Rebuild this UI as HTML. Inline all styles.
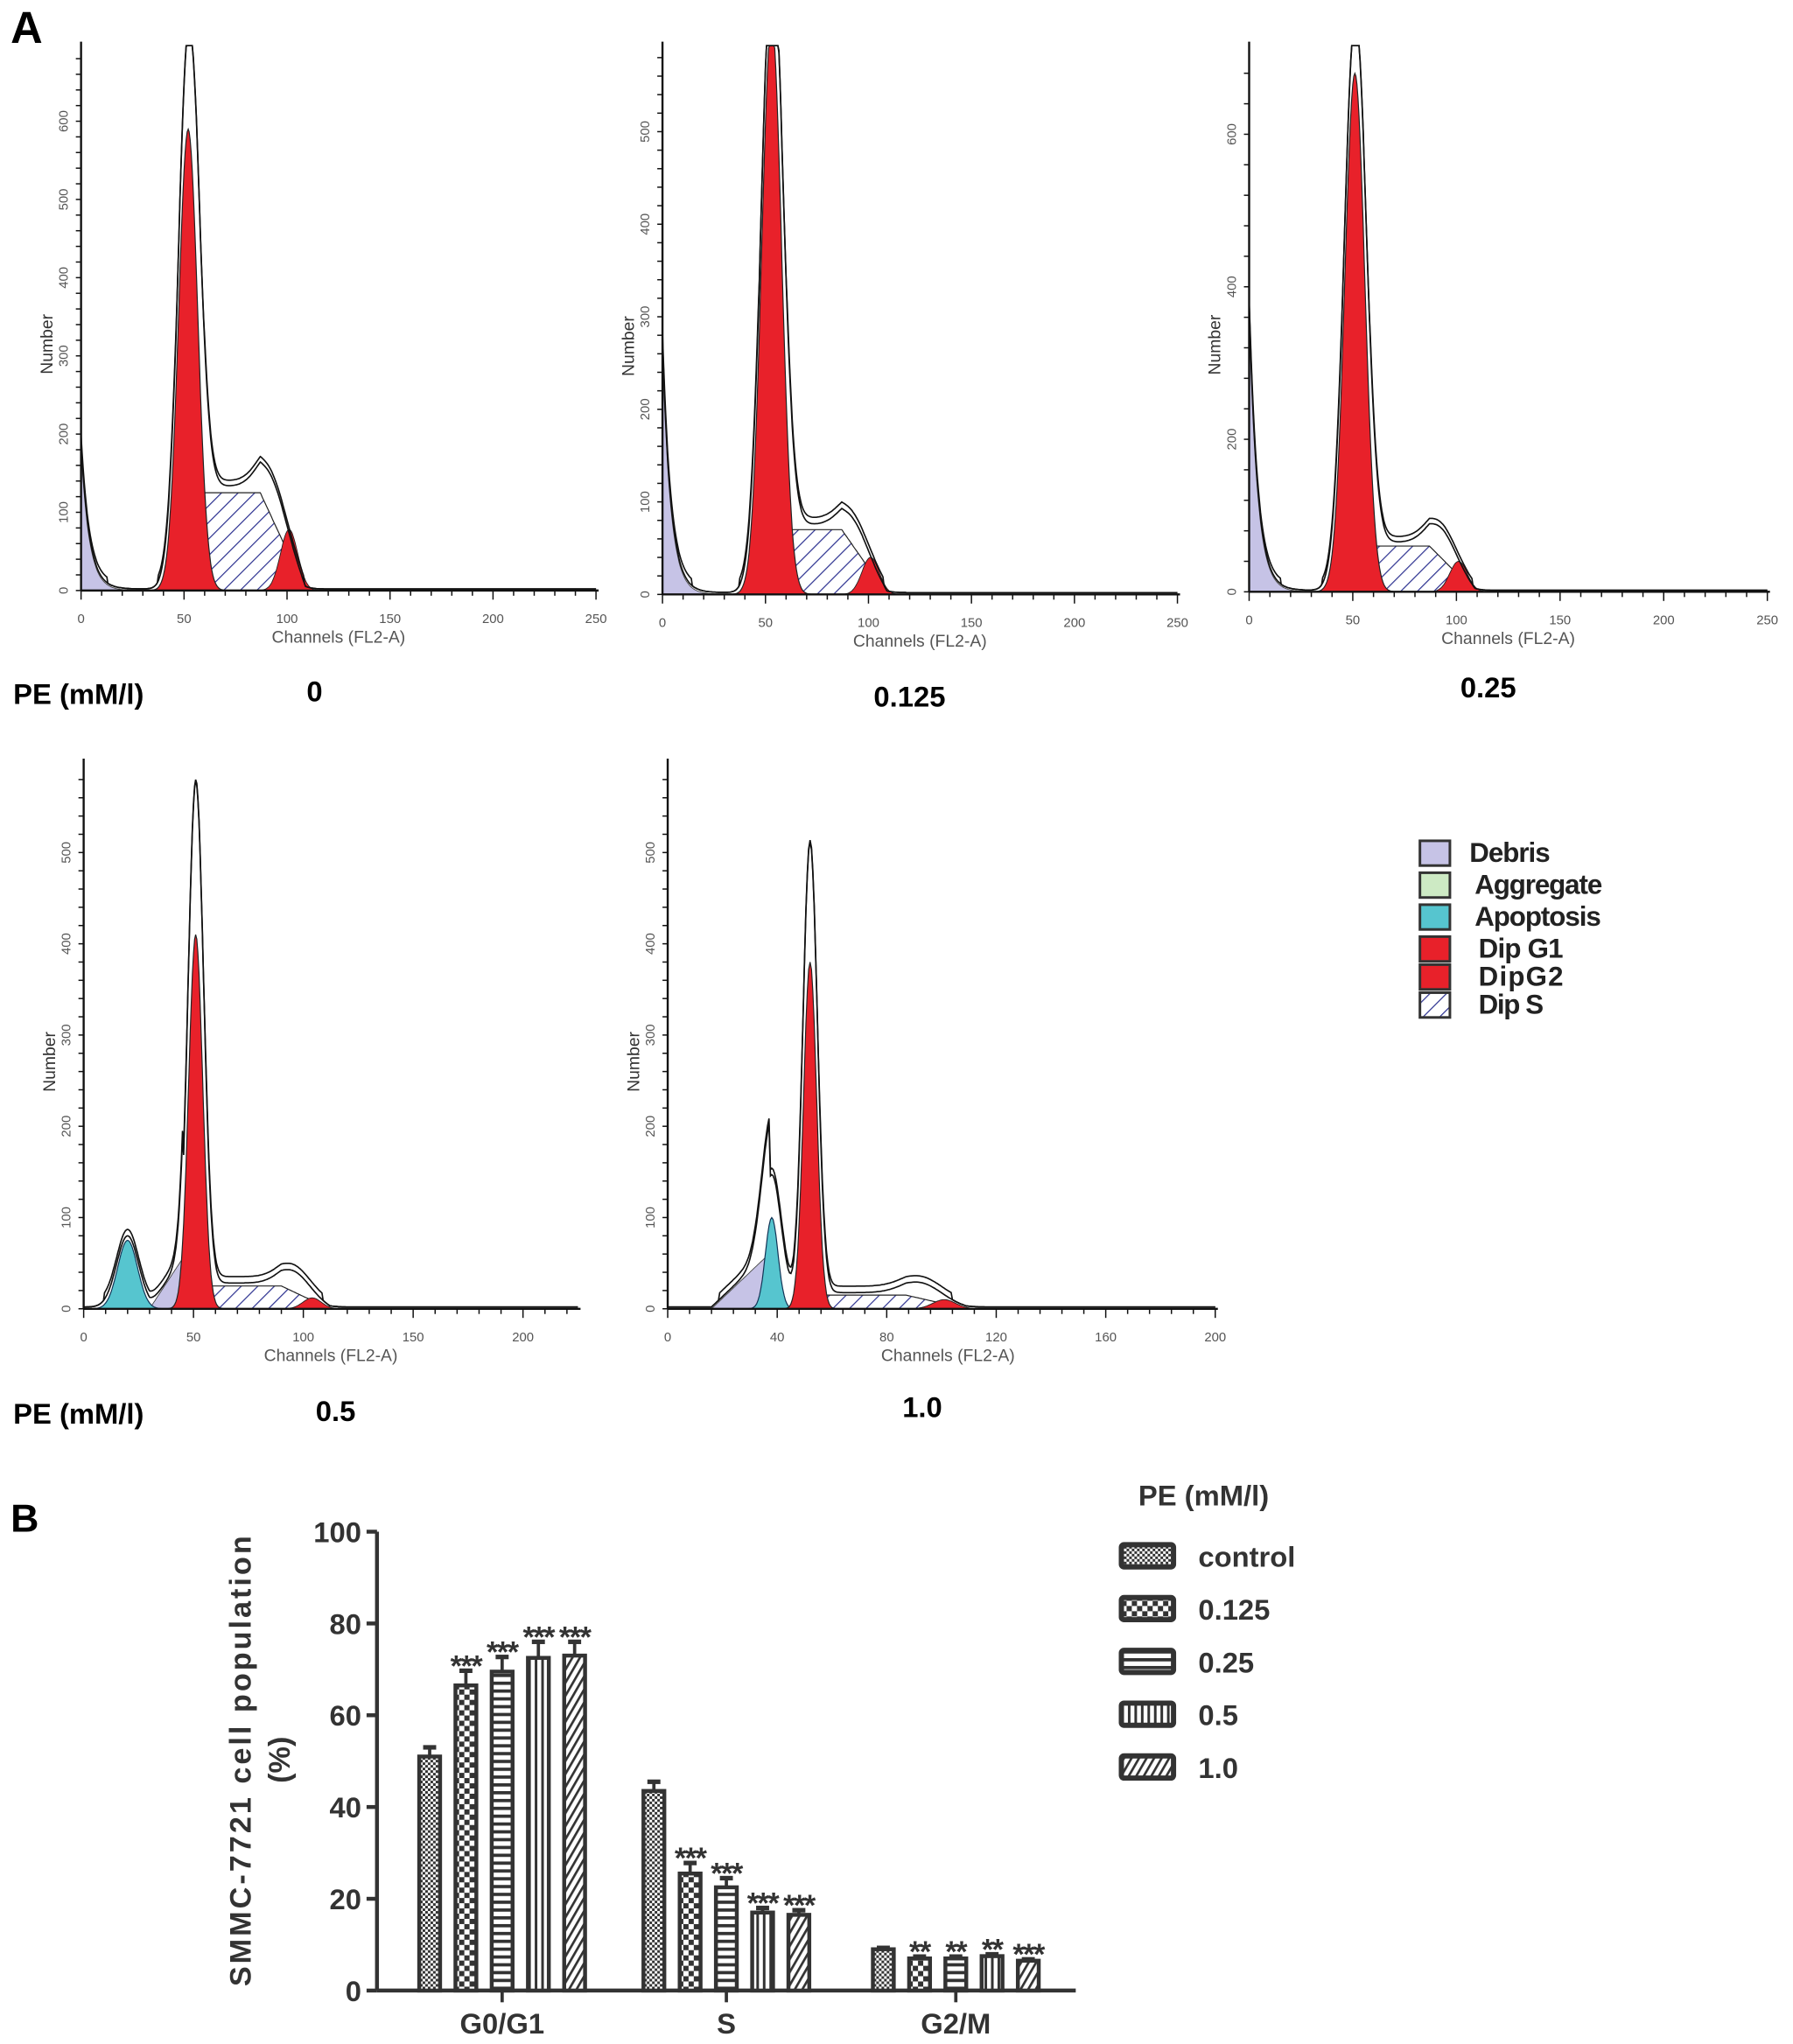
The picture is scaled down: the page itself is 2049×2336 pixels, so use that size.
<!DOCTYPE html>
<html><head><meta charset="utf-8"><style>
html,body{margin:0;padding:0;background:#fff}
svg{display:block}
text{font-family:"Liberation Sans",sans-serif}
</style></head><body>
<svg id="fig" width="2049" height="2336" viewBox="0 0 1375 1568" xmlns="http://www.w3.org/2000/svg">
<defs>
<pattern id="hatchS" patternUnits="userSpaceOnUse" width="9" height="9" patternTransform="rotate(45)"><rect width="9" height="9" fill="#fff"/><line x1="0" y1="0" x2="0" y2="9" stroke="#2a2f8f" stroke-width="1.6"/></pattern>
<pattern id="pCtrl" patternUnits="userSpaceOnUse" width="4" height="4"><rect width="4" height="4" fill="#fff"/><rect width="2" height="2" fill="#333"/><rect x="2" y="2" width="2" height="2" fill="#333"/></pattern>
<pattern id="p0125" patternUnits="userSpaceOnUse" width="8" height="8"><rect width="8" height="8" fill="#fff"/><rect width="4" height="4" fill="#333"/><rect x="4" y="4" width="4" height="4" fill="#333"/></pattern>
<pattern id="p025" patternUnits="userSpaceOnUse" width="6" height="6"><rect width="6" height="6" fill="#fff"/><rect width="6" height="2.5" fill="#333"/></pattern>
<pattern id="p05" patternUnits="userSpaceOnUse" width="5" height="5"><rect width="5" height="5" fill="#fff"/><rect width="2" height="5" fill="#333"/></pattern>
<pattern id="p10" patternUnits="userSpaceOnUse" width="5" height="5" patternTransform="rotate(30)"><rect width="5" height="5" fill="#fff"/><rect width="1.8" height="5" fill="#333"/></pattern>
</defs>
<text x="8" y="33" font-size="34" font-weight="bold">A</text>
<text x="8" y="1175" font-size="30" font-weight="bold">B</text>
<g id="hists"></g>
<g font-size="22" font-weight="bold">
<text x="10" y="540">PE (mM/l)</text><text x="235" y="538">0</text><text x="670" y="542">0.125</text><text x="1120" y="535">0.25</text>
<text x="10" y="1092">PE (mM/l)</text><text x="242" y="1090">0.5</text><text x="692" y="1087">1.0</text>
</g>
<g id="hlegend"></g>
<g id="bars"></g>
</svg>
<script>
const NS="http://www.w3.org/2000/svg";
function mk(tag,attrs,parent){const e=document.createElementNS(NS,tag);for(const k in attrs)e.setAttribute(k,attrs[k]);parent.appendChild(e);return e;}
// ---- histogram panel data (channel, count units) ----
const panelNames=["hist-pe-0","hist-pe-0125","hist-pe-025","hist-pe-05","hist-pe-10"];
const g1Mean=[52,53,51,51,52];
const g1Sd=[4.6,4.8,4.8,3.2,2.4];
const g1Height=[590,620,680,410,380];
const g1Outline=[640,640,716,560,500];
const sLevel=[125,70,60,25,15];
const g2Mean=[101,101,101,104,101];
const g2Height=[78,40,40,12,10];
const g2Outline=[170,95,95,45,30];
const debrisHeight=[180,260,360,0,0];
const wedgeStart=[0,0,0,30,16];
const wedgeEnd=[0,0,0,45,37];
const wedgeHeight=[0,0,0,55,60];
const apopMean=[0,0,0,20,38];
const apopHeight=[0,0,0,75,100];
const apopOutline=[0,0,0,78,145];
const yTicks=[[0,100,200,300,400,500,600],[0,100,200,300,400,500],[0,200,400,600],[0,100,200,300,400,500],[0,100,200,300,400,500]];
const xTicks=[[0,50,100,150,200,250],[0,50,100,150,200,250],[0,50,100,150,200,250],[0,50,100,150,200],[0,40,80,120,160,200]];
// panel geometry
const geo=[
 {ox:62,oy:453,px:1.58,py:0.6,xmax:250,top:35},
 {ox:508,oy:456,px:1.58,py:0.71,xmax:250,top:35},
 {ox:958,oy:454,px:1.59,py:0.585,xmax:250,top:35},
 {ox:64,oy:1004,px:1.685,py:0.70,xmax:225,top:585},
 {ox:512,oy:1004,px:2.1,py:0.70,xmax:200,top:585}];
const H=document.getElementById('hists');
function gauss(x,m,s){return Math.exp(-0.5*((x-m)/s)**2);}
for(let p=0;p<5;p++){
 const G=geo[p];
 const g=mk('g',{},H);
 
 
 const X=c=>G.ox+c*G.px, Y=n=>Math.max(G.top,G.oy-n*G.py);
 const chans=[];for(let c=0;c<=G.xmax;c+=0.5)chans.push(c);
 const deb=c=>debrisHeight[p]*Math.exp(-c/4);
 const wedge=c=>(wedgeHeight[p]&&c>=wedgeStart[p]&&c<=wedgeEnd[p])?wedgeHeight[p]*(c-wedgeStart[p])/(wedgeEnd[p]-wedgeStart[p]):0;
 const apo=c=>apopHeight[p]*gauss(c,apopMean[p],p==3?4.5:2.3);
 const g1=c=>g1Height[p]*gauss(c,g1Mean[p],g1Sd[p]);
 const S=c=>{const a=g1Mean[p]+4,b=g2Mean[p]-14,e=g2Mean[p]+8;if(c<a-10||c>e)return 0;if(c<a)return sLevel[p]*(c-(a-10))/10;if(c<b)return sLevel[p];return sLevel[p]*(e-c)/(e-b);};
 const g2=c=>g2Height[p]*gauss(c,g2Mean[p],4.2);
 const area=(f)=>{let d=`M${X(0)},${G.oy}`;chans.forEach(c=>{d+=` L${X(c).toFixed(1)},${Y(f(c)).toFixed(1)}`});return d+` L${X(G.xmax)},${G.oy}Z`;};
 let e;
 e=mk('path',{d:area(c=>Math.max(deb(c),wedge(c))),fill:'#c6c3e6',stroke:'#444','stroke-width':0.6},g);
 if(apopHeight[p]){e=mk('path',{d:area(apo),fill:'#56c5cf',stroke:'#135','stroke-width':0.8},g);}
 e=mk('path',{d:area(S),fill:'url(#hatchS)',stroke:'#222','stroke-width':0.8},g);
 e=mk('path',{d:area(g2),fill:'#e8212a',stroke:'#222','stroke-width':0.6},g);
 e=mk('path',{d:area(g1),fill:'#e8212a',stroke:'#222','stroke-width':0.8},g);
 // outline (measured histogram)
 const out=c=>deb(c)*1.05+wedge(c)+(apopHeight[p]?apopOutline[p]*gauss(c,apopMean[p],p==3?5:3.6):0)+g1Outline[p]*gauss(c,g1Mean[p],g1Sd[p]*1.1)+S(c)*1.05+(g2Outline[p]-sLevel[p])*gauss(c,g2Mean[p]-8,7)+2;
 for(const off of [0,7]){let d='';chans.forEach((c,i)=>{const v=out(c);d+=(i?' L':'M')+X(c).toFixed(1)+','+Y(v>10?v+off*(v>g1Outline[p]*0.5?0.3:1):v).toFixed(1)});
 e=mk('path',{d,fill:'none',stroke:'#111','stroke-width':1.1},g);}
 // axes
 e=mk('line',{x1:G.ox,y1:G.oy,x2:X(G.xmax)+2,y2:G.oy,stroke:'#111','stroke-width':1.6},g);
 e=mk('line',{x1:G.ox,y1:G.oy,x2:G.ox,y2:G.top-3,stroke:'#111','stroke-width':1.6},g);
 const xs=xTicks[p],step=(xs[1]-xs[0])/5;
 for(let c=0;c<=G.xmax;c+=step){const maj=Math.abs(c/(xs[1]-xs[0])-Math.round(c/(xs[1]-xs[0])))<1e-6;mk('line',{x1:X(c),y1:G.oy,x2:X(c),y2:G.oy+(maj?7:4),stroke:'#111','stroke-width':1},g);}
 xs.forEach(v=>{e=mk('text',{x:X(v),y:G.oy+25,'font-size':10,'text-anchor':'middle',fill:'#555'},g);e.textContent=v;});
 const ys=yTicks[p],ystep=(ys[1]-ys[0])/5;
 for(let n=0;G.oy-n*G.py>=G.top;n+=ystep){mk('line',{x1:G.ox-4,y1:G.oy-n*G.py,x2:G.ox,y2:G.oy-n*G.py,stroke:'#111','stroke-width':1},g);}
 ys.forEach(v=>{const yy=G.oy-v*G.py;e=mk('text',{x:G.ox-10,y:yy,'font-size':10,'text-anchor':'middle',fill:'#555',transform:`rotate(-90 ${G.ox-10} ${yy})`},g);e.textContent=v;});
 e=mk('text',{x:X(G.xmax*0.5)+(p==4?5:0),y:G.oy+40,'font-size':13,'text-anchor':'middle',fill:'#555'},g);e.textContent='Channels (FL2-A)';
 const ty=(G.oy+G.top)/2+20;e=mk('text',{x:G.ox-22,y:ty,'font-size':13,'text-anchor':'middle',fill:'#333',transform:`rotate(-90 ${G.ox-22} ${ty})`},g);e.textContent='Number';
}
// histogram legend
const legNames=['Debris','Aggregate','Apoptosis','Dip G1','DipG2','Dip S'];
const legFills=['#c6c3e6','#cdeac4','#56c5cf','#e8212a','#e8212a','url(#hatchS)'];
const HL=document.getElementById('hlegend');
legNames.forEach((n,i)=>{const y=645+i*24.5-(i>=4?(i-3)*3:0);
 let r=mk('rect',{x:1089,y:y,width:23,height:19,fill:legFills[i],stroke:'#333','stroke-width':2},HL);
 let t=mk('text',{x:i==0?1127:(i<3?1131:1134),y:y+16,'font-size':21,'font-weight':'bold',fill:'#222',textLength:i==0?62:(i==1?98:(i==2?97:(i==5?50:65)))},HL);t.textContent=n;});
// ---- bar chart ----
const categories=['G0/G1','S','G2/M'];
const seriesNames=['control','0.125','0.25','0.5','1.0'];
const valControl=[51,43.5,9];
const val0125=[66.5,25.5,7];
const val025=[69.5,22.5,7];
const val05=[72.5,17,7.5];
const val10=[73,16.5,6.5];
const errControl=[2,2,0.3];
const err0125=[3.2,2.3,0.4];
const err025=[3.2,2,0.4];
const err05=[3.5,1,0.4];
const err10=[3,1,0.3];
const stars=[['','','',],['***','***','**'],['***','***','**'],['***','***','**'],['***','***','***']];
const yTickVals=[0,20,40,60,80,100];
const vals=[valControl,val0125,val025,val05,val10],errs=[errControl,err0125,err025,err05,err10];
const fills=['url(#pCtrl)','url(#p0125)','url(#p025)','url(#p05)','url(#p10)'];
const B=document.getElementById('bars');
const ax0=289,ay0=1527,ay100=1175;
const yS=v=>ay0-(ay0-ay100)*v/100;
const cx=[385,557,733];
let e;
e=mk('line',{x1:ax0,y1:ay0,x2:ax0,y2:ay100,stroke:'#333','stroke-width':3},B);
e=mk('line',{x1:ax0,y1:ay0,x2:825,y2:ay0,stroke:'#333','stroke-width':3},B);
yTickVals.forEach(v=>{mk('line',{x1:ax0-8,y1:yS(v),x2:ax0,y2:yS(v),stroke:'#333','stroke-width':3},B);
 e=mk('text',{x:ax0-12,y:yS(v)+8,'font-size':22,'font-weight':'bold','text-anchor':'end',fill:'#333'},B);e.textContent=v;});
categories.forEach((c,j)=>{mk('line',{x1:cx[j],y1:ay0,x2:cx[j],y2:ay0+9,stroke:'#333','stroke-width':2.5},B);
 e=mk('text',{x:cx[j],y:1560,'font-size':22,'font-weight':'bold','text-anchor':'middle',fill:'#333'},B);e.textContent=c;});
e=mk('text',{x:0,y:0,'font-size':23,'font-weight':'bold','text-anchor':'middle',fill:'#333','letter-spacing':'2',transform:'translate(192 1350) rotate(-90)'},B);e.textContent='SMMC-7721 cell population';
e=mk('text',{x:0,y:0,'font-size':23,'font-weight':'bold','text-anchor':'middle',fill:'#333',transform:'translate(222 1350) rotate(-90)'},B);e.textContent='(%)';
for(let s=0;s<5;s++)for(let j=0;j<3;j++){
 const x=cx[j]+(s-2)*27.8,v=vals[s][j],er=errs[s][j];
 mk('line',{x1:x,y1:yS(v),x2:x,y2:yS(v+er),stroke:'#333','stroke-width':2.5},B);
 mk('line',{x1:x-5,y1:yS(v+er),x2:x+5,y2:yS(v+er),stroke:'#333','stroke-width':3.5},B);
 const r=mk('rect',{x:x-8,y:yS(v),width:16,height:ay0-yS(v),fill:fills[s],stroke:'#333','stroke-width':3},B);
 
 
 if(stars[s][j]){const t=mk('text',{x:x,y:yS(v+er)+4,'font-size':23,'font-weight':'bold','text-anchor':'middle',fill:'#333','letter-spacing':'-1'},B);t.textContent=stars[s][j];}
}
e=mk('text',{x:873,y:1155,'font-size':22,'font-weight':'bold',fill:'#333'},B);e.textContent='PE (mM/l)';
seriesNames.forEach((n,i)=>{const y=1185+i*40.5;
 const r=mk('rect',{x:860,y:y,width:40,height:17,fill:fills[i],stroke:'#333','stroke-width':4,rx:2},B);
 const t=mk('text',{x:919,y:y+17,'font-size':22,'font-weight':'bold',fill:'#333'},B);t.textContent=n;});
</script>
</body></html>
